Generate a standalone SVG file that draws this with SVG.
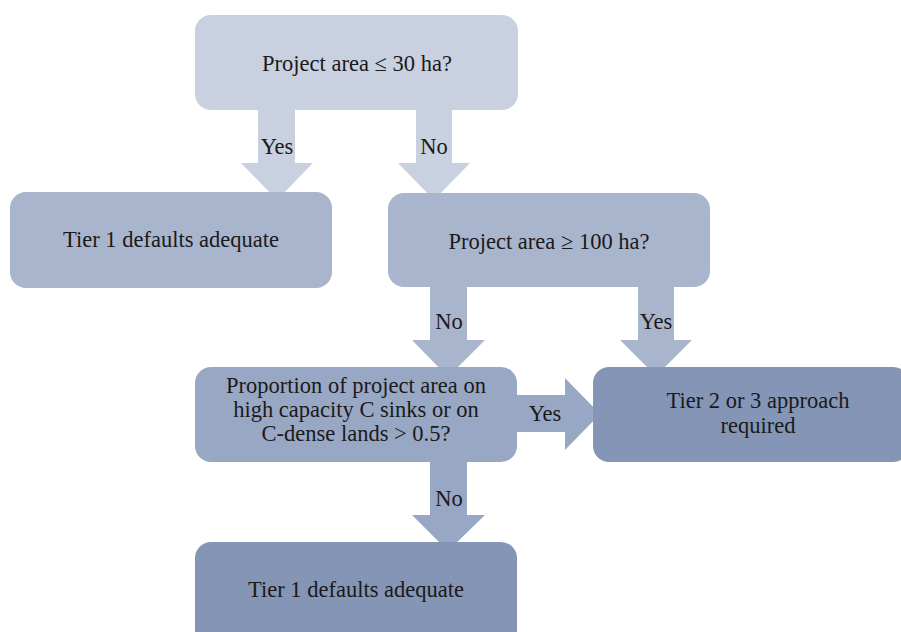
<svg xmlns="http://www.w3.org/2000/svg" width="901" height="632" viewBox="0 0 901 632">
<style>
text{font-family:"Liberation Serif","DejaVu Serif",serif;font-size:22.5px;fill:#1a1a1a;text-anchor:middle}
.c1{fill:#c9d0e0}.c2{fill:#a9b5cd}.c3{fill:#98a7c4}.c4{fill:#8595b6}
</style>
<rect width="901" height="632" fill="#ffffff"/>
<g id="connectors">
<g id="a-yes1" class="c1"><polygon points="258,105 295,105 295,163 313,163 277,200 241,163 258,163"/><text x="277" y="154">Yes</text></g>
<g id="a-no1" class="c1"><polygon points="416,105 452,105 452,163 470,163 434,200 398,163 416,163"/><text x="434" y="154">No</text></g>
<g id="a-no2" class="c2"><polygon points="430,282 467,282 467,340 485,340 448,377 412,340 430,340"/><text x="449" y="329">No</text></g>
<g id="a-yes2" class="c2"><polygon points="638,282 674,282 674,340 692,340 656,376 620,340 638,340"/><text x="656" y="329">Yes</text></g>
<g id="a-yes3" class="c3"><polygon points="512,395 565,395 565,378 600,414 565,450 565,432 512,432"/><text x="545" y="421">Yes</text></g>
<g id="a-no3" class="c3"><polygon points="430,455 467,455 467,515 485,515 448,551 412,515 430,515"/><text x="449" y="506">No</text></g>
</g>
<g id="n-top"><rect class="c1" x="195" y="15" width="323" height="95" rx="16"/><text x="357" y="71">Project area ≤ 30 ha?</text></g>
<g id="n-tier1a"><rect class="c2" x="10" y="192" width="322" height="96" rx="16"/><text x="171" y="247">Tier 1 defaults adequate</text></g>
<g id="n-100"><rect class="c2" x="388" y="193" width="322" height="94" rx="16"/><text x="549" y="249">Project area ≥ 100 ha?</text></g>
<g id="n-prop"><rect class="c3" x="195" y="367" width="322" height="95" rx="16"/><text x="356" y="393">Proportion of project area on</text><text x="356" y="417">high capacity C sinks or on</text><text x="356" y="441">C-dense lands &gt; 0.5?</text></g>
<g id="n-tier23"><rect class="c4" x="593" y="367" width="316" height="95" rx="16"/><text x="758" y="408">Tier 2 or 3 approach</text><text x="758" y="433">required</text></g>
<g id="n-tier1b"><rect class="c4" x="195" y="542" width="322" height="110" rx="16"/><text x="356" y="597">Tier 1 defaults adequate</text></g>
</svg>
